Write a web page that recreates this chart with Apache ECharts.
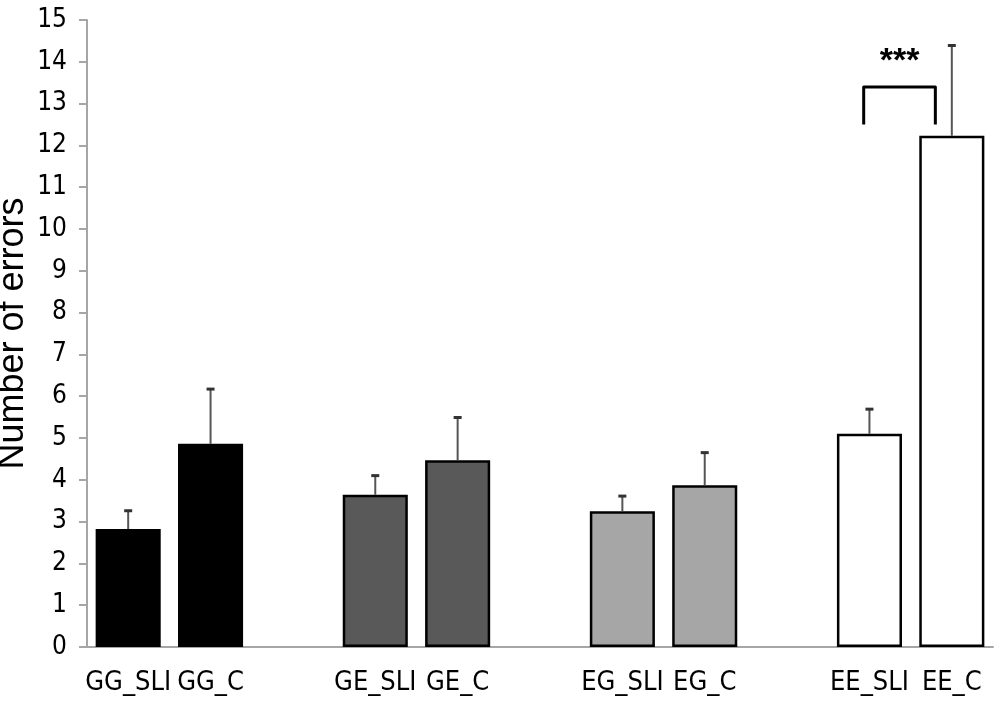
<!DOCTYPE html>
<html>
<head>
<meta charset="utf-8">
<script src="https://cdn.jsdelivr.net/npm/echarts@6/dist/echarts.min.js"></script>
<style>
html, body { margin: 0; padding: 0; background: #fff; }
#chart { width: 1000px; height: 709px; }
</style>
</head>
<body>
<div id="chart"></div>
<script>
// categories, '' = gap between groups
var categories = ["GG_SLI", "GG_C", "", "GE_SLI", "GE_C", "", "EG_SLI", "EG_C", "", "EE_SLI", "EE_C"];
var means = [2.82, 4.86, null, 3.64, 4.47, null, 3.25, 3.87, null, 5.10, 12.23];
var errTops = [3.26, 6.17, null, 4.10, 5.49, null, 3.61, 4.65, null, 5.69, 14.39];
var barColors = ["#000000", "#000000", null, "#595959", "#595959", null, "#a6a6a6", "#a6a6a6", null, "#ffffff", "#ffffff"];
var yTicks = [0, 15, 1]; // min, max, interval
// significance bracket: [fromCategory, toCategory, low, high, label]
var bracket = ["EE_SLI", "EE_C", 12.5, 13.4, "***"];

var narrow = "'Liberation Sans Narrow', 'DejaVu Sans Condensed', Arial, sans-serif";

var barData = [], errData = [];
for (var i = 0; i < categories.length; i++) {
	if (means[i] == null) {
		barData.push("-");
		continue;
	}
	barData.push({
		value : means[i],
		itemStyle : { color : barColors[i] }
	});
	errData.push([ i, means[i], errTops[i] ]);
}

var chart = echarts.init(document.getElementById("chart"));
var option = {
	animation : false,
	grid : { left : 87, right : 7, top : 20, bottom : 62, containLabel : false, outerBoundsMode : "none" },
	xAxis : {
		type : "category",
		data : categories,
		axisLine : { lineStyle : { color : "#a6a6a6", width : 2 } },
		axisTick : { length : 10, lineStyle : { color : "#a6a6a6", width : 2 } },
		axisLabel : { color : "#000", fontSize : 27, fontFamily : narrow, margin : 22, interval : 0, hideOverlap : false }
	},
	yAxis : {
		type : "value",
		min : yTicks[0],
		max : yTicks[1],
		interval : yTicks[2],
		name : "Number of errors",
		nameLocation : "middle",
		nameGap : 56,
		nameMoveOverlap : false,
		nameTextStyle : { color : "#000", fontSize : 36, fontFamily : "'Liberation Sans', Arial, sans-serif" },
		splitLine : { show : false },
		axisLine : { show : true, lineStyle : { color : "#a6a6a6", width : 2 } },
		axisTick : { show : true, length : 8, lineStyle : { color : "#a6a6a6", width : 2 } },
		axisLabel : { color : "#000", fontSize : 26, fontFamily : narrow, margin : 20 }
	},
	series : [ {
		type : "bar",
		data : barData,
		barWidth : "79%",
		itemStyle : { borderColor : "#000", borderWidth : 2.5 }
	}, {
		type : "custom",
		data : errData,
		z : 5,
		renderItem : function(params, api) {
			var base = api.coord([ api.value(0), api.value(1) ]);
			var top = api.coord([ api.value(0), api.value(2) ]);
			return {
				type : "group",
				children : [ {
					type : "line",
					shape : { x1 : base[0], y1 : base[1], x2 : top[0], y2 : top[1] },
					style : { stroke : "#555", lineWidth : 2 }
				}, {
					type : "line",
					shape : { x1 : top[0] - 4, y1 : top[1], x2 : top[0] + 4, y2 : top[1] },
					style : { stroke : "#333", lineWidth : 3 }
				} ]
			};
		}
	}, {
		type : "custom",
		data : [ [ categories.indexOf(bracket[0]), categories.indexOf(bracket[1]), bracket[2], bracket[3] ] ],
		z : 6,
		renderItem : function(params, api) {
			var bw = api.size([ 1, 0 ])[0];
			var p1 = api.coord([ api.value(0), api.value(3) ]);
			var p2 = api.coord([ api.value(1), api.value(3) ]);
			var lowY = api.coord([ api.value(0), api.value(2) ])[1];
			var x1 = p1[0] - 0.07 * bw, x2 = p2[0] - 0.2 * bw, y = p1[1];
			return {
				type : "group",
				children : [ {
					type : "polyline",
					shape : { points : [ [ x1, lowY ], [ x1, y ], [ x2, y ], [ x2, lowY ] ] },
					style : { stroke : "#000", lineWidth : 3, fill : null, lineJoin : "round" }
				}, {
					type : "text",
					style : {
						text : bracket[4],
						x : (x1 + x2) / 2,
						y : y - 42,
						align : "center",
						verticalAlign : "top",
						font : "bold 34px 'Liberation Sans', Arial, sans-serif",
						fill : "#000"
					}
				} ]
			};
		}
	} ]
};
chart.setOption(option);
window.addEventListener("resize", chart.resize);
</script>
</body>
</html>
